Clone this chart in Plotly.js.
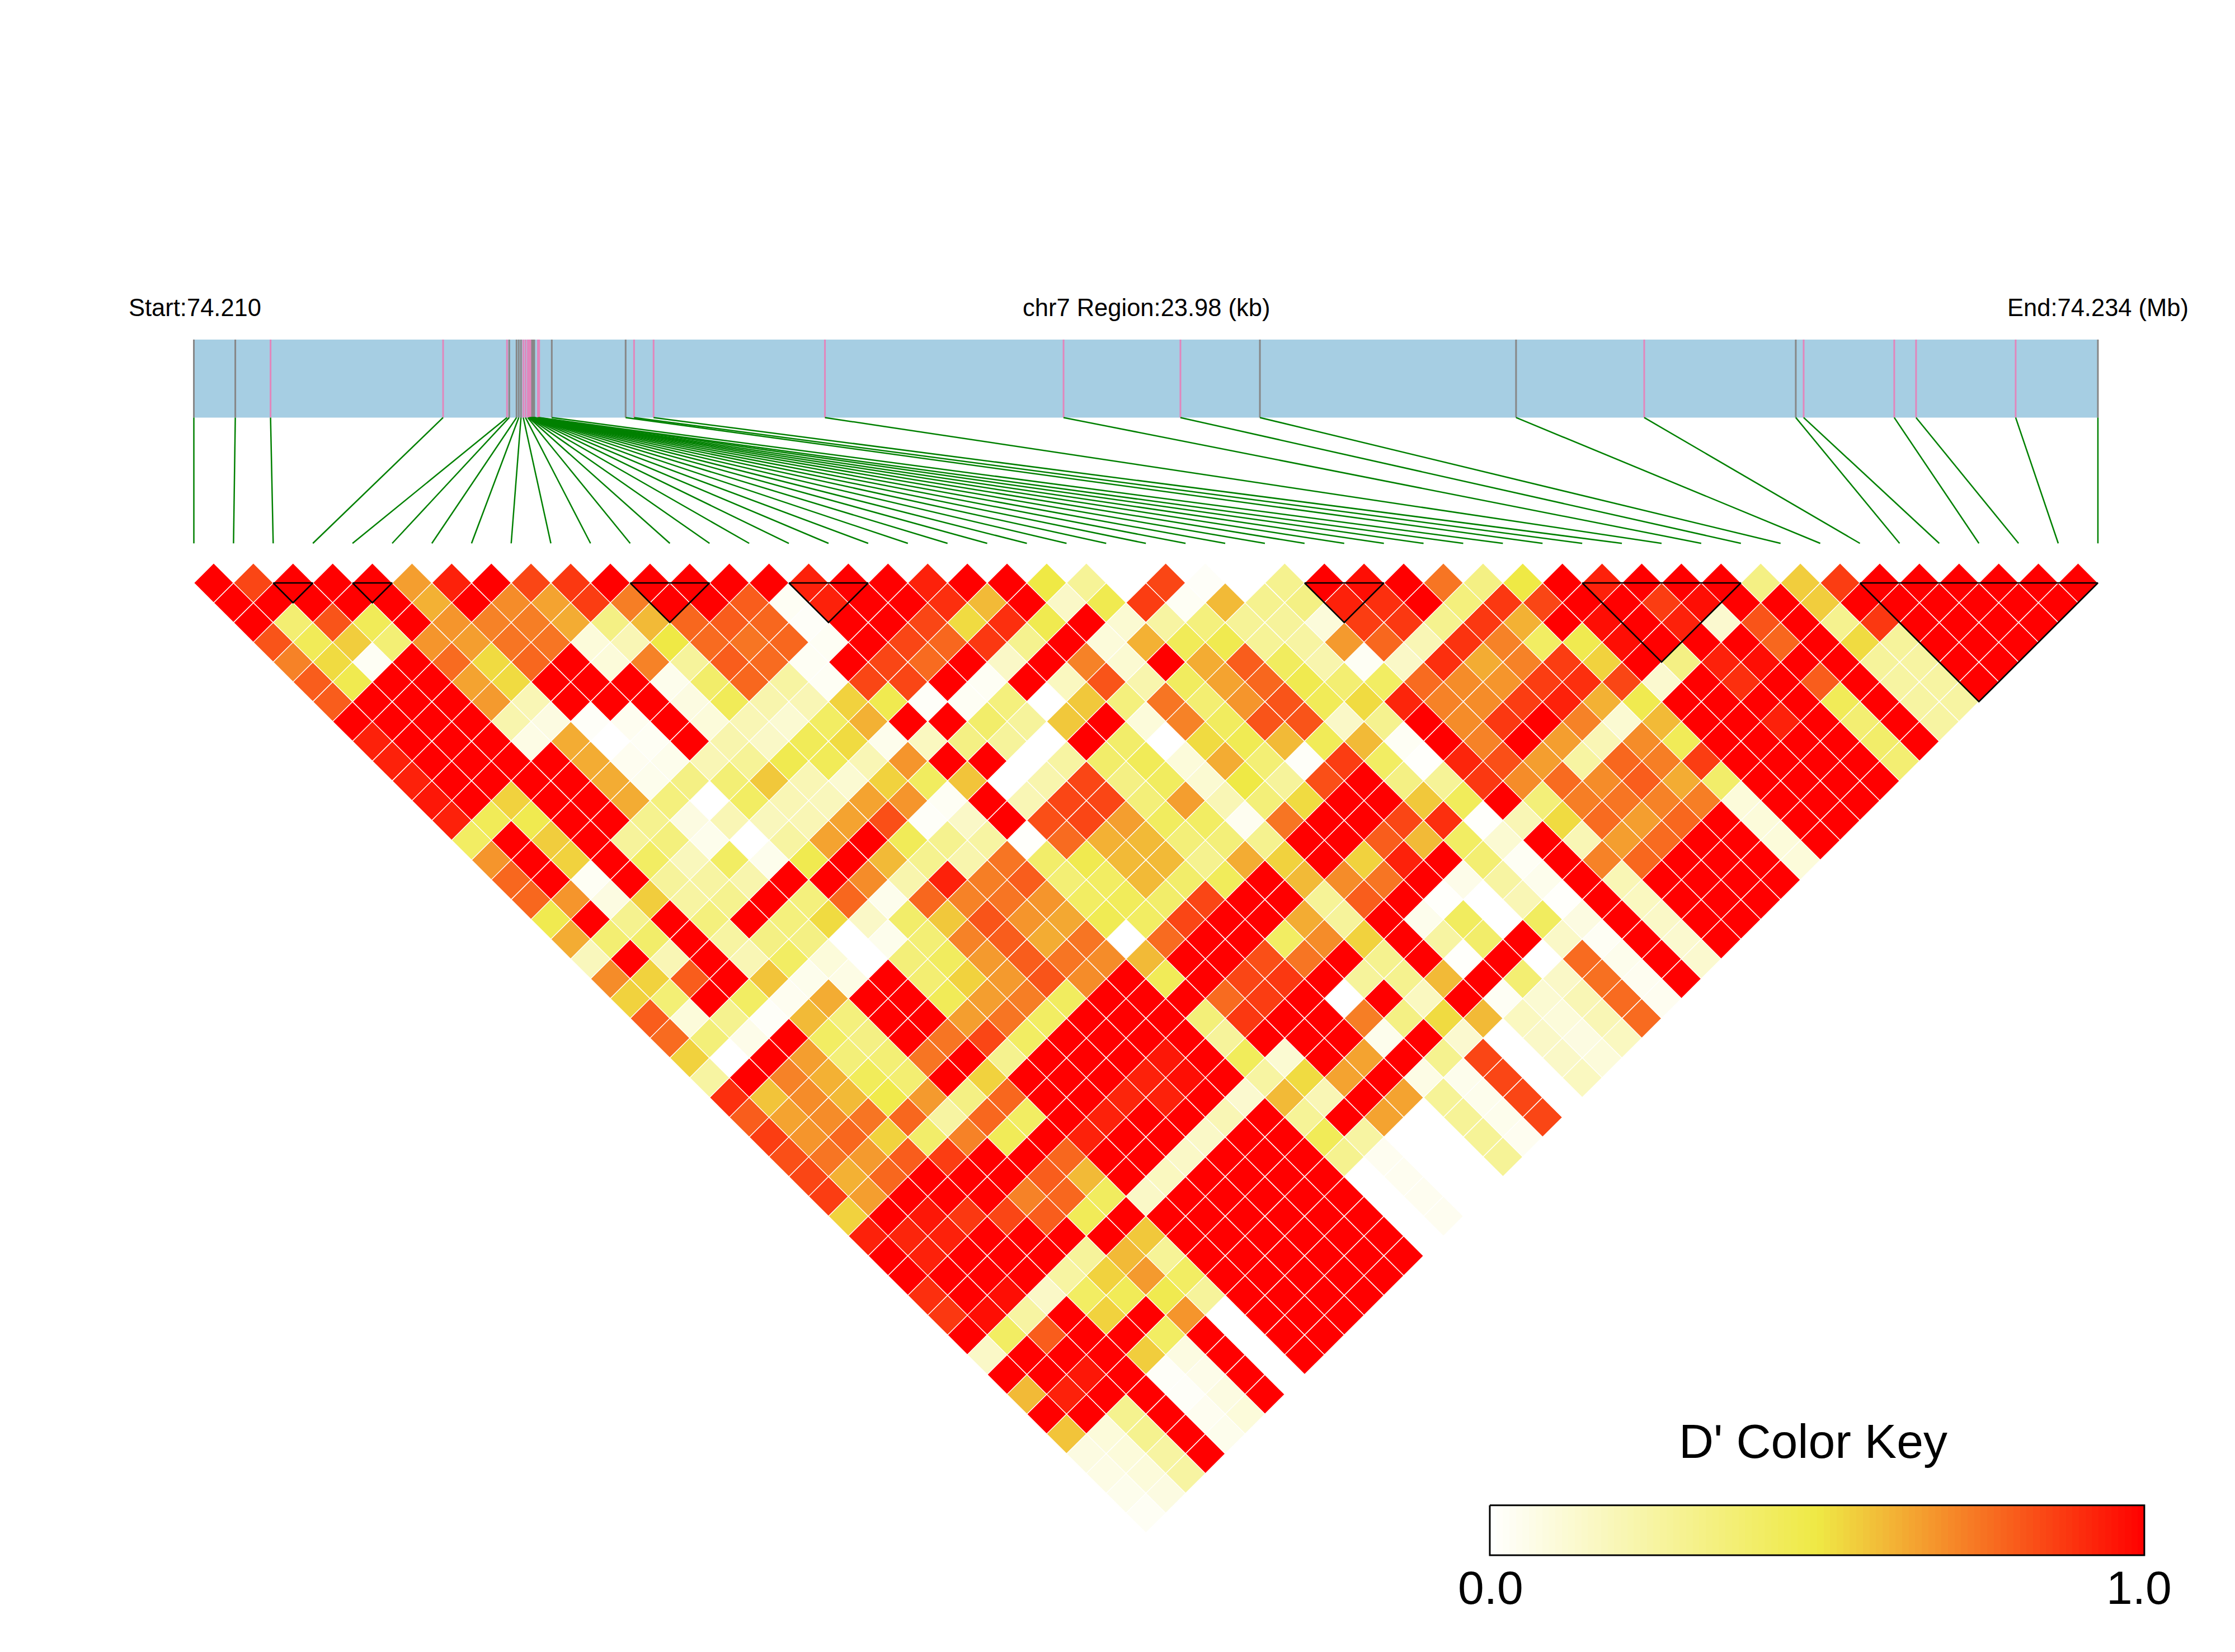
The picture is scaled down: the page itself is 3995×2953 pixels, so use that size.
<!DOCTYPE html>
<html>
<head>
<meta charset="utf-8">
<script src="https://cdn.plot.ly/plotly-3.0.1.min.js"></script>
<style>html,body{margin:0;padding:0;background:#fff}</style>
</head>
<body>
<div id="chart" style="width:3995px;height:2953px"></div>
<script>
// SNP positions along the region, kb from the region start
const snpKb = [0,0.522,0.966,3.139,3.944,3.972,4.064,4.092,4.120,4.149,4.177,4.205,4.217,4.221,4.225,4.230,4.234,4.238,4.245,4.249,4.252,4.256,4.259,4.263,4.266,4.270,4.273,4.277,4.280,4.284,4.287,4.333,4.349,4.508,5.438,5.544,5.790,7.948,10.953,12.425,13.426,16.652,18.266,20.175,20.274,21.415,21.690,22.944,23.98];
// g = grey tick, p = pink tick
const snpClass = "ggpppgggg"+"ppp"+"pppppp"+"ggggggggggggg"+"pp"+"gg"+"ppppp"+"gg"+"pgpppp"+"g";
const regionKb = 23.98;
// D' values, one array per pair distance
const row01=[1,.85,1,1,1,.66,.93,1,.85,.88,1,1,1,1,1,.93,1,1,.93,1,1,.5,.28,0,.85,.02,0,.3,1,.97,1,.75,.33,.5,1,.93,1,1,1,.33,.56,.87,1,1,1,1,1,1];
const row02=[1,1,1,1,1,.62,1,.7,.65,.87,.73,1,1,.8,.03,.93,1,1,.9,.6,1,.15,.47,.87,.03,.6,.3,.33,.93,.9,1,.35,.88,.85,1,1,.87,.97,1,1,.56,1,1,1,1,1,1];
const row03=[1,.38,.82,.45,1,.68,.72,.73,.63,.33,.6,.78,.8,.78,.02,1,1,.85,.53,.9,.47,1,.12,.25,.35,.28,.27,.1,.87,.88,.3,.88,.62,1,.97,1,.93,.13,.82,1,.3,.88,1,1,1,1];
const row04=[.82,.45,.56,.37,.68,.66,.75,.75,.1,.2,.5,.77,.75,.78,.03,1,.85,.78,.88,.3,1,.1,.62,.45,.47,.28,.25,.67,.78,.2,.89,.72,.42,.47,.97,1,1,1,.78,1,.53,.27,1,1,1];
const row05=[.72,.53,.03,1,.77,.53,.78,1,.1,.72,.27,.8,.77,.03,1,.85,.77,1,.15,1,.72,.12,1,.63,.8,.43,.22,.03,.15,.9,.63,.72,.87,.55,1,.33,.93,.97,1,1,.27,.25,1,1];
const row06=[.8,.47,1,1,.65,.53,1,1,1,.05,.4,.78,.25,.03,.85,.85,1,.03,1,.17,.82,.22,.43,.65,.78,.47,.38,.42,.77,.7,.68,.87,.9,.85,.13,1,.9,1,.8,1,.25,.25,1];
const row07=[.8,1,1,1,.67,.2,1,1,1,.08,.45,.22,.2,.55,.47,.02,.03,.35,0,.57,.35,.75,.38,.68,.82,.45,.53,.92,.72,.7,.87,.93,.62,.47,1,1,1,1,.45,1,.25,.25];
const row08=[1,1,1,1,.22,.08,.02,.04,1,.1,.2,.12,.42,.62,1,1,.4,.27,.57,1,.1,.72,.43,.82,.82,.15,.3,1,.7,.88,1,.72,.12,.6,1,1,.93,1,.38,1,.25];
const row09=[.93,1,1,1,.07,.63,0,.03,1,.22,.15,.45,.53,.05,.17,.33,.27,0,1,.4,0,.53,.46,.6,.45,.6,.03,1,.72,1,.66,.2,.7,.45,1,1,1,1,.4,1];
const row10=[.93,1,1,1,1,.63,.04,.05,.2,.28,.47,.45,.2,.68,1,1,0,.25,.4,.45,.1,.63,.37,.02,.87,.42,.01,.92,.83,.66,.25,.78,.73,.87,1,1,1,1,.38];
const row11=[.93,1,1,1,1,.63,.05,.33,.37,.57,.2,.12,.55,.43,.58,0,.22,.85,.33,.43,.12,.5,.27,.83,1,.33,.28,.88,.7,.77,.7,.8,.63,.4,1,1,1,1];
const row12=[.95,1,.55,1,1,.63,.35,0,.42,.2,.18,.65,.68,.03,1,.2,.85,.85,.36,.66,.2,.36,.53,1,1,.57,.44,1,.36,.73,.75,.72,.73,.1,1,1,1];
const row13=[.93,.45,.47,1,1,.3,.08,.2,.18,.2,.65,.83,.02,.15,1,.83,.85,.66,.43,.42,.04,.75,1,1,.85,.9,.01,.2,.53,.77,.66,.78,1,.1,1,1];
const row14=[.42,1,.56,1,.27,.35,.05,0,.25,.65,1,.45,.3,.25,.01,.77,.62,.6,.36,.36,.3,1,1,.8,.6,.42,.12,1,.2,.66,.77,1,1,.1,1];
const row15=[.68,1,.55,1,.42,.18,.42,.05,.47,1,.6,.3,.22,.75,.4,.47,.6,.6,.3,.63,.55,1,.55,.93,1,.38,.03,1,.72,.78,1,1,1,.1];
const row16=[.78,1,.03,1,.27,.25,.22,1,1,.7,.22,.93,.73,.8,.37,.42,.6,.4,.44,1,.6,.7,.75,1,.06,.25,.05,1,.2,1,1,1,1];
const row17=[.78,.68,.08,.56,.25,.3,1,.35,.78,.05,.78,.72,.75,.68,.42,.44,.4,.85,1,1,.28,.8,1,.01,0,.2,.01,1,.17,1,1,1];
const row18=[.47,1,.3,1,.35,1,.35,.53,.15,.4,.57,.82,.68,.64,.46,.42,.85,1,1,.63,.27,1,.05,.43,0,.43,.08,1,.15,1,1];
const row19=[.63,.38,.4,1,.25,.33,.33,0,.05,.37,.72,.8,.63,.75,0,.77,1,1,.42,.7,.55,1,.25,.4,1,.15,.03,1,.13,1];
const row20=[.18,1,.2,1,.2,.42,.1,0,.36,.43,.67,.8,.75,.7,.6,1,1,.83,.75,1,.3,1,.01,1,0,.77,.05,1,.13];
const row21=[.7,.55,.8,1,.58,.05,.07,1,.38,.55,.67,.82,.7,1,.45,1,.85,.88,1,.27,.3,.6,1,.38,.15,.76,.04,1];
const row22=[.55,.37,1,.42,.04,.63,1,1,.45,.66,.73,.43,1,1,1,.77,.87,1,0,1,.17,1,.03,.12,.2,.77,.04];
const row23=[.8,.1,.3,.02,.6,.35,1,1,.66,.75,.42,1,1,1,.36,.88,1,1,.73,.33,.53,.6,.17,.1,.2,.77];
const row24=[.77,.36,.06,1,.42,.33,1,.75,.85,.42,1,1,1,1,.27,1,1,1,.05,1,.13,0,.15,.08,.17];
const row25=[.55,0,1,.66,.36,.37,.75,1,.3,1,1,1,.95,1,.44,.12,1,.65,1,.3,.85,0,.15,.1];
const row26=[.25,1,.72,.62,.44,.38,1,.55,1,1,1,.93,.97,1,.25,.53,.65,1,.07,.05,.85,0,.17];
const row27=[.9,.58,.7,.6,.48,.67,.33,.78,1,1,.92,.93,1,.13,.6,.2,1,.65,.28,.05,.85,0];
const row28=[.8,.65,.7,.75,.78,.25,.78,.42,1,.93,1,1,.2,1,.28,1,.65,0,.28,.05,.85];
const row29=[.87,.68,.78,.55,.4,.72,.45,1,.93,1,1,.15,1,1,.45,.25,0,0,.28,.04];
const row30=[.83,.75,.67,.8,.87,1,1,.78,1,1,.15,1,1,1,.3,.04,0,0,.28];
const row31=[.85,.62,.78,1,1,1,.8,.6,1,.17,1,1,1,1,0,.04,0,0];
const row32=[.87,.66,1,1,1,.72,.78,.43,.15,1,1,1,1,1,0,.04,0];
const row33=[.55,1,.95,.88,.85,.8,.45,1,1,1,1,1,1,1,0,.04];
const row34=[.93,.92,.93,1,1,1,1,.57,1,1,1,1,1,1,0];
const row35=[1,.93,1,1,1,.27,.6,.28,1,1,1,1,1,1];
const row36=[1,1,1,1,.25,.55,.67,.42,1,1,1,1,1];
const row37=[.9,1,.97,.15,.42,.45,.47,.27,1,1,1,1];
const row38=[.88,.97,.25,1,.55,1,.68,0,1,1,1];
const row39=[1,.42,.8,1,1,.42,1,0,1,1];
const row40=[.15,1,1,1,.56,.08,1,0,1];
const row41=[1,1,.95,1,.02,.06,1,0];
const row42=[.6,.93,1,1,.02,.08,1];
const row43=[1,1,.3,1,.04,.1];
const row44=[.58,.1,.3,1,.05];
const row45=[.08,.1,.25,1];
const row46=[.07,.1,.25];
const row47=[.05,.08];
const row48=[.03];
const rows=[row01,row02,row03,row04,row05,row06,row07,row08,row09,row10,row11,row12,row13,row14,row15,row16,row17,row18,row19,row20,row21,row22,row23,row24,row25,row26,row27,row28,row29,row30,row31,row32,row33,row34,row35,row36,row37,row38,row39,row40,row41,row42,row43,row44,row45,row46,row47,row48];
// LD blocks as [first SNP, last SNP]
const ldBlocks=[[2,3],[4,5],[11,13],[15,17],[28,30],[35,39],[42,48]];
const titleStart="Start:74.210", titleMid="chr7 Region:23.98 (kb)", titleEnd="End:74.234 (Mb)";
const keyTitle="D' Color Key", keyLow="0.0", keyHigh="1.0";
const colorStops=[[0,'#FFFFFF'],[.5,'#EFE945'],[1,'#FF0000']];

function hex(c){return [1,3,5].map(k=>parseInt(c.substr(k,2),16));}
function colorOf(v){
  const a=v<.5?colorStops[0]:colorStops[1], b=v<.5?colorStops[1]:colorStops[2];
  const t=(v-a[0])/(b[0]-a[0]), ca=hex(a[1]), cb=hex(b[1]);
  return 'rgb('+ca.map((x,k)=>Math.round(x+(cb[k]-x)*t)).join(',')+')';
}
const traces=[];
const trackTop=-12.297, trackBottom=-8.356, fanBottom=-2;
const nSnp=snpKb.length;
const toTrack=kb=>kb/regionKb*(nSnp-1);
// gene/region band
traces.push({type:'scatter',mode:'lines',x:[0,48,48,0,0],y:[trackTop,trackTop,trackBottom,trackBottom,trackTop],fill:'toself',fillcolor:'#A6CEE3',line:{width:0},hoverinfo:'skip'});
// SNP ticks
[['g','#878787'],['p','#E286BC']].forEach(([cls,col])=>{
  const x=[],y=[];
  snpKb.forEach((kb,i)=>{ if(snpClass[i]===cls){x.push(toTrack(kb),toTrack(kb),null);y.push(trackTop,trackBottom,null);} });
  traces.push({type:'scatter',mode:'lines',x,y,line:{color:col,width:3},hoverinfo:'skip'});
});
// connector fan
{const x=[],y=[];
 snpKb.forEach((kb,i)=>{x.push(toTrack(kb),i,null);y.push(trackBottom,fanBottom,null);});
 traces.push({type:'scatter',mode:'lines',x,y,line:{color:'#008000',width:2.5},hoverinfo:'skip'});}
// LD cells, grouped by value
const groups=new Map();
rows.forEach((row,k)=>row.forEach((v,i)=>{
  const j=i+k+1, cx=(i+j)/2, cy=k;
  if(!groups.has(v))groups.set(v,{x:[],y:[]});
  const g=groups.get(v);
  g.x.push(cx-.5,cx,cx+.5,cx,cx-.5,null);
  g.y.push(cy,cy-1,cy,cy+1,cy,null);
}));
groups.forEach((g,v)=>{
  traces.push({type:'scatter',mode:'lines',x:g.x,y:g.y,fill:'toself',fillcolor:colorOf(v),line:{color:'#FFFFFF',width:1.3},hoverinfo:'skip',connectgaps:false});
});
// block outlines
{const x=[],y=[];
 ldBlocks.forEach(([a,b])=>{x.push(a,b,(a+b)/2,a,null);y.push(0,0,b-a,0,null);});
 traces.push({type:'scatter',mode:'lines',x,y,line:{color:'#000000',width:2.6},hoverinfo:'skip'});}
// colour key
const keyL=32.67,keyR=49.17,keyT=46.61,keyB=49.13,keySteps=100;
const keyRamp=[];for(let n=0;n<keySteps;n++)keyRamp.push((n+.5)/keySteps);
traces.push({type:'heatmap',z:[keyRamp],x0:keyL+(keyR-keyL)/keySteps/2,dx:(keyR-keyL)/keySteps,y0:(keyT+keyB)/2,dy:keyB-keyT,zmin:0,zmax:1,colorscale:colorStops,showscale:false,hoverinfo:'skip'});
traces.push({type:'scatter',mode:'lines',x:[keyL,keyR,keyR,keyL,keyL],y:[keyT,keyT,keyB,keyB,keyT],line:{color:'#000000',width:3},hoverinfo:'skip'});

const W=3995,H=2953;
const ann=(text,px,py,size)=>({text,x:px/W,y:1-py/H,xref:'paper',yref:'paper',xanchor:'center',yanchor:'middle',showarrow:false,font:{family:'Liberation Sans, Arial, sans-serif',size,color:'#000'}});
const layout={
  width:W,height:H,margin:{l:0,r:0,t:0,b:0,pad:0},paper_bgcolor:'#fff',plot_bgcolor:'#fff',showlegend:false,
  xaxis:{range:[-4.8868,51.456],visible:false,fixedrange:true,showgrid:false,zeroline:false},
  yaxis:{range:[54.02,-29.456],visible:false,fixedrange:true,showgrid:false,zeroline:false},
  annotations:[
    ann(titleStart,348,550,43.5),ann(titleMid,2049,550,43.5),ann(titleEnd,3750,550,43.5),
    ann(keyTitle,3241,2576,86),ann(keyLow,2664,2838,84),ann(keyHigh,3823,2838,84)
  ]
};
Plotly.newPlot('chart',traces,layout,{staticPlot:true,displayModeBar:false});
</script>
</body>
</html>
